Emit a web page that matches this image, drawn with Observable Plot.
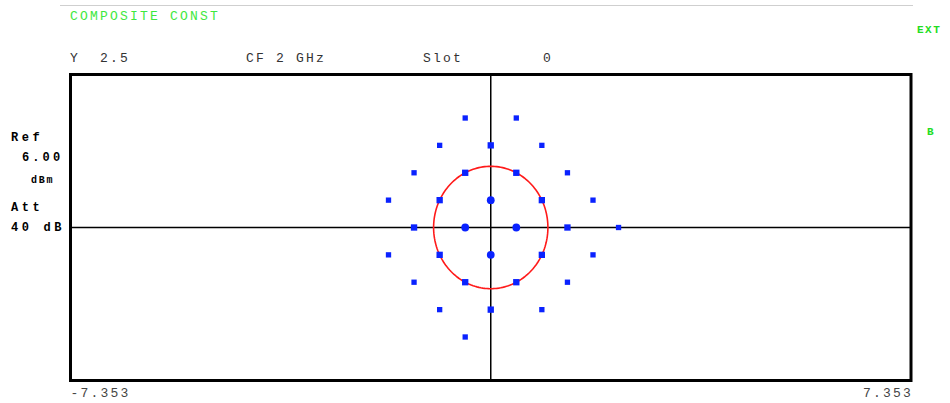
<!DOCTYPE html>
<html><head><meta charset="utf-8">
<script src="https://cdn.jsdelivr.net/npm/d3@7"></script>
<script src="https://cdn.jsdelivr.net/npm/@observablehq/plot@0.6"></script>
<style>
html,body{margin:0;padding:0;background:#fff;}
svg text.mono{font-family:"Liberation Mono","DejaVu Sans Mono",monospace;}
svg g[aria-label="x-axis tick label"] text{letter-spacing:2.2px;}
</style></head><body><div id="chart"></div>
<script>
// Constellation points (I, Q)
const symbolI = [
  -0.447, 0.447,
  -0.894, 0, 0.894,
  -1.342, -0.447, 0.447, 1.342,
  -1.789, -0.894, 0, 0.894, 1.789,
  -1.342, -0.447, 0.447, 1.342, 2.236,
  -1.789, -0.894, 0, 0.894, 1.789,
  -1.342, -0.447, 0.447, 1.342,
  -0.894, 0, 0.894,
  -0.447
];
const symbolQ = [
  1.789, 1.789,
  1.342, 1.342, 1.342,
  0.894, 0.894, 0.894, 0.894,
  0.447, 0.447, 0.447, 0.447, 0.447,
  0, 0, 0, 0, 0,
  -0.447, -0.447, -0.447, -0.447, -0.447,
  -0.894, -0.894, -0.894, -0.894,
  -1.342, -1.342, -1.342,
  -1.789
];
const xDomain = [-7.353, 7.353];
const yDomain = [-2.5, 2.5];
const xTickLabels = [-7.353, 7.353];
const refCircleRadius = 1;
const titleText = "COMPOSITE CONST";
const headerLabels = ["Y  2.5", "CF 2 GHz", "Slot", "0"];
const leftLabels = ["Ref", "6.00", "dBm", "Att", "40 dB"];
const rightLabels = ["EXT", "B"];

const points = symbolI.map((i, k) => ({i, q: symbolQ[k], d: Math.hypot(i, symbolQ[k])}));
const circle = d3.range(0, 361, 2).map(a => ({
  i: refCircleRadius * Math.cos(a * Math.PI / 180),
  q: refCircleRadius * Math.sin(a * Math.PI / 180)
}));

const W = 950, H = 403;
const mono = "Liberation Mono, DejaVu Sans Mono, monospace";

const chart = Plot.plot({
  width: W, height: H,
  marginLeft: 70, marginRight: 39.5, marginTop: 74, marginBottom: 23,
  style: {background: "#fff", overflow: "visible"},
  x: {domain: xDomain, axis: null},
  y: {domain: yDomain, axis: null},
  marks: [
    Plot.ruleX([0], {stroke: "#000", strokeWidth: 1.5}),
    Plot.ruleY([0], {stroke: "#000", strokeWidth: 1.5}),
    Plot.line(circle, {x: "i", y: "q", stroke: "#ff1a1a", strokeWidth: 1.6}),
    Plot.dot(points, {
      x: "i", y: "q", fill: "#0a22ff", stroke: "none",
      symbol: d => d.d < 0.6 ? "circle" : "square",
      r: d => d.d < 0.6 ? 3.2 : d.d < 1.4 ? 2.7 : 1.9
    }),
    Plot.frame({stroke: "#000", strokeWidth: 3}),
    Plot.axisX([xTickLabels[0]], {
      tickSize: 0, tickPadding: 7, textAnchor: "start", label: null,
      tickFormat: d => d.toFixed(3), fill: "#444", fontSize: 13, fontFamily: mono
    }),
    Plot.axisX([xTickLabels[1]], {
      tickSize: 0, tickPadding: 7, textAnchor: "end", label: null, dx: 2,
      tickFormat: d => d.toFixed(3), fill: "#444", fontSize: 13, fontFamily: mono
    })
  ]
});

const svg = d3.select(chart);
// thin gray rule at the very top
svg.append("line").attr("x1", 60).attr("x2", 913).attr("y1", 5.5).attr("y2", 5.5)
  .attr("stroke", "#cfcfcf").attr("stroke-width", 1);

function label(txt, x, y, opts = {}) {
  svg.append("text").attr("class", "mono").text(txt)
    .attr("x", x).attr("y", y)
    .attr("text-anchor", "start")
    .attr("font-size", opts.size || 13)
    .attr("font-weight", opts.bold ? "bold" : "normal")
    .attr("letter-spacing", opts.ls != null ? opts.ls : 2.2)
    .attr("fill", opts.fill || "#333")
    .attr("xml:space", "preserve")
    .style("white-space", "pre");
}
label(titleText, 70, 19.5, {fill: "#3ee83e"});
label(headerLabels[0], 70, 61.5);
label(headerLabels[1], 246, 61.5);
label(headerLabels[2], 423, 61.5);
label(headerLabels[3], 543, 61.5);

label(leftLabels[0], 11, 141, {bold: true, size: 12, ls: 3.6, fill: "#000"});
label(leftLabels[1], 22, 161, {bold: true, size: 12, ls: 3.1, fill: "#000"});
label(leftLabels[2], 31, 183, {bold: true, size: 10, ls: 1.8, fill: "#000"});
label(leftLabels[3], 11, 211, {bold: true, size: 12, ls: 3.6, fill: "#000"});
label(leftLabels[4], 11, 231, {bold: true, size: 12, ls: 3.6, fill: "#000"});

label(rightLabels[0], 917, 33, {bold: true, size: 11, ls: 1.5, fill: "#22dd22"});
label(rightLabels[1], 927, 135, {bold: true, size: 11, ls: 1.5, fill: "#22dd22"});

document.getElementById("chart").append(chart);
</script>
</body></html>
